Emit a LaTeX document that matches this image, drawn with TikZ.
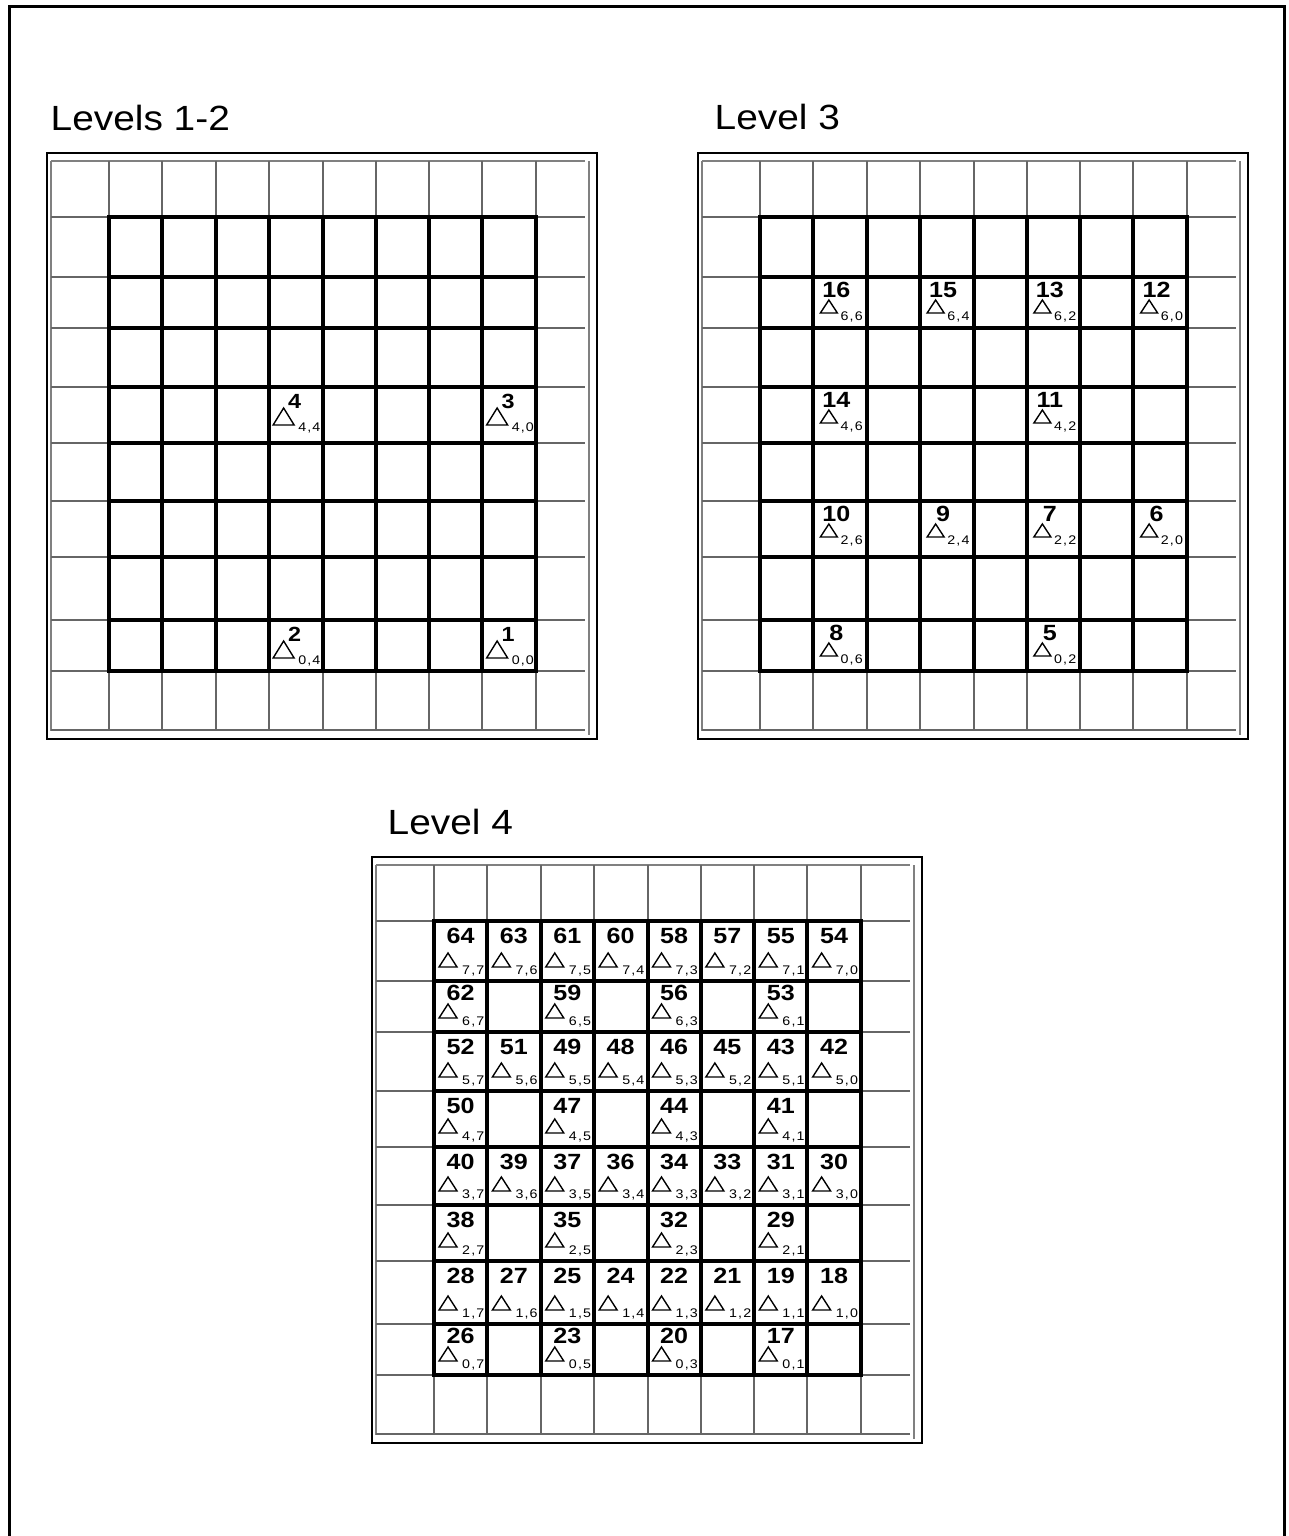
\documentclass[tikz,border=0pt]{standalone}
\usepackage{fontspec}
\setmainfont{Liberation Sans}
\usepackage{graphicx}
\newcommand\wide[1]{\scalebox{1.14}[1]{#1}}
\tikzset{
  border/.style={line width=3pt, draw=black, line join=miter},
  framebox/.style={line width=1.4pt, draw=black},
  frameinner/.style={line width=1.6pt, draw=black!50},
  gridthin/.style={line width=1.2pt, draw=black!60},
  gridthick/.style={line width=4pt, draw=black, line cap=rect},
  tri/.style={line width=1.4pt, draw=black, line join=miter},
  titletext/.style={anchor=base west, inner sep=0pt, font=\fontsize{35}{40}\selectfont},
  numA/.style={anchor=base, inner sep=0pt, font=\fontsize{20.5}{24}\selectfont\bfseries},
  numB/.style={anchor=base, inner sep=0pt, font=\fontsize{22}{26}\selectfont\bfseries},
  subtext/.style={anchor=base west, inner sep=0pt, font=\fontsize{12.5}{15}\selectfont}
}
\newcommand\drawpanel[2]{%
  \begin{scope}[shift={(#1,#2)}]
    \draw[framebox] (47,153) rectangle (597,739);
    \draw[frameinner] (51,161) -- (51,731);
    \draw[frameinner] (51,161) -- (585,161);
    \draw[frameinner] (589,161) -- (589,735);
    \foreach \y in {217,277,328,387,443,501,557,620,671,730} \draw[gridthin] (51,\y) -- (585,\y);
    \foreach \x in {109,162,216,269,323,376,429,482,536} \draw[gridthin] (\x,161) -- (\x,730);
    \foreach \y in {217,277,328,387,443,501,557,620,671} \draw[gridthick] (109,\y) -- (536,\y);
    \foreach \x in {109,162,216,269,323,376,429,482,536} \draw[gridthick] (\x,217) -- (\x,671);
  \end{scope}}
% panel 1 label: col, row, number, a, b
\newcommand\labA[5]{%
  \pgfmathsetmacro\cl{109+53.375*#1}%
  \pgfmathsetmacro\ct{{217,277,328,387,443,501,557,620}[#2]}%
  \draw[tri] ({\cl+4},{\ct+38}) -- ({\cl+14.5},{\ct+21}) -- ({\cl+25},{\ct+38}) -- cycle;
  \node[numA] (n#3) at ({\cl+25.5},{\ct+21}) {\wide{#3}};
  \node[subtext] (s#3) at ({\cl+29},{\ct+44}) {\wide{#4\kern1pt,\kern1pt#5}};}
% panel 2 label
\newcommand\labB[5]{%
  \pgfmathsetmacro\cl{109+53.375*#1}%
  \pgfmathsetmacro\ct{{217,277,328,387,443,501,557,620}[#2]}%
  \draw[tri] ({\cl+7},{\ct+36}) -- ({\cl+15.5},{\ct+23}) -- ({\cl+24},{\ct+36}) -- cycle;
  \node[numB] (n#3) at ({\cl+23},{\ct+20}) {\wide{#3}};
  \node[subtext] (s#3) at ({\cl+27},{\ct+43}) {\wide{#4\kern1pt,\kern1pt#5}};}
% panel 3 label
\newcommand\labC[5]{%
  \pgfmathsetmacro\cl{109+53.375*#1}%
  \pgfmathsetmacro\ct{{217,277,328,387,443,501,557,620}[#2]}%
  \pgfmathsetmacro\cb{{277,328,387,443,501,557,620,671}[#2]}%
  \pgfmathsetmacro\nb{min(\ct+22,\cb-32)}%
  \draw[tri] ({\cl+5},{\cb-14}) -- ({\cl+14},{\cb-28}) -- ({\cl+23},{\cb-14}) -- cycle;
  \node[numB] (n#3) at ({\cl+26.5},{\nb}) {\wide{#3}};
  \node[subtext] (s#3) at ({\cl+28},{\cb-6.5}) {\wide{#4\kern1pt,\kern1pt#5}};}
\begin{document}
\begin{tikzpicture}[x=1pt,y=-1pt]
  \useasboundingbox (0,0) rectangle (1288,1536);
  \draw[border] (9.5,1536) -- (9.5,6.5) -- (1284.5,6.5) -- (1284.5,1536);

  \node[titletext] (t1) at (50.5,131) {\scalebox{1.11}[1]{Levels 1-2}};
  \node[titletext] (t2) at (714.5,130) {\scalebox{1.11}[1]{Level 3}};
  \node[titletext] (t3) at (387.5,834) {\scalebox{1.11}[1]{Level 4}};

  \drawpanel{0}{0}
  \drawpanel{651}{0}
  \drawpanel{325}{704}

  % Levels 1-2
  \labA{3}{3}{4}{4}{4}
  \labA{7}{3}{3}{4}{0}
  \labA{3}{7}{2}{0}{4}
  \labA{7}{7}{1}{0}{0}

  % Level 3
  \begin{scope}[shift={(651,0)}]
    \labB{1}{1}{16}{6}{6}
    \labB{3}{1}{15}{6}{4}
    \labB{5}{1}{13}{6}{2}
    \labB{7}{1}{12}{6}{0}
    \labB{1}{3}{14}{4}{6}
    \labB{5}{3}{11}{4}{2}
    \labB{1}{5}{10}{2}{6}
    \labB{3}{5}{9}{2}{4}
    \labB{5}{5}{7}{2}{2}
    \labB{7}{5}{6}{2}{0}
    \labB{1}{7}{8}{0}{6}
    \labB{5}{7}{5}{0}{2}
  \end{scope}

  % Level 4
  \begin{scope}[shift={(325,704)}]
    \labC{0}{0}{64}{7}{7}
    \labC{1}{0}{63}{7}{6}
    \labC{2}{0}{61}{7}{5}
    \labC{3}{0}{60}{7}{4}
    \labC{4}{0}{58}{7}{3}
    \labC{5}{0}{57}{7}{2}
    \labC{6}{0}{55}{7}{1}
    \labC{7}{0}{54}{7}{0}
    \labC{0}{1}{62}{6}{7}
    \labC{2}{1}{59}{6}{5}
    \labC{4}{1}{56}{6}{3}
    \labC{6}{1}{53}{6}{1}
    \labC{0}{2}{52}{5}{7}
    \labC{1}{2}{51}{5}{6}
    \labC{2}{2}{49}{5}{5}
    \labC{3}{2}{48}{5}{4}
    \labC{4}{2}{46}{5}{3}
    \labC{5}{2}{45}{5}{2}
    \labC{6}{2}{43}{5}{1}
    \labC{7}{2}{42}{5}{0}
    \labC{0}{3}{50}{4}{7}
    \labC{2}{3}{47}{4}{5}
    \labC{4}{3}{44}{4}{3}
    \labC{6}{3}{41}{4}{1}
    \labC{0}{4}{40}{3}{7}
    \labC{1}{4}{39}{3}{6}
    \labC{2}{4}{37}{3}{5}
    \labC{3}{4}{36}{3}{4}
    \labC{4}{4}{34}{3}{3}
    \labC{5}{4}{33}{3}{2}
    \labC{6}{4}{31}{3}{1}
    \labC{7}{4}{30}{3}{0}
    \labC{0}{5}{38}{2}{7}
    \labC{2}{5}{35}{2}{5}
    \labC{4}{5}{32}{2}{3}
    \labC{6}{5}{29}{2}{1}
    \labC{0}{6}{28}{1}{7}
    \labC{1}{6}{27}{1}{6}
    \labC{2}{6}{25}{1}{5}
    \labC{3}{6}{24}{1}{4}
    \labC{4}{6}{22}{1}{3}
    \labC{5}{6}{21}{1}{2}
    \labC{6}{6}{19}{1}{1}
    \labC{7}{6}{18}{1}{0}
    \labC{0}{7}{26}{0}{7}
    \labC{2}{7}{23}{0}{5}
    \labC{4}{7}{20}{0}{3}
    \labC{6}{7}{17}{0}{1}
  \end{scope}
\end{tikzpicture}
\end{document}
